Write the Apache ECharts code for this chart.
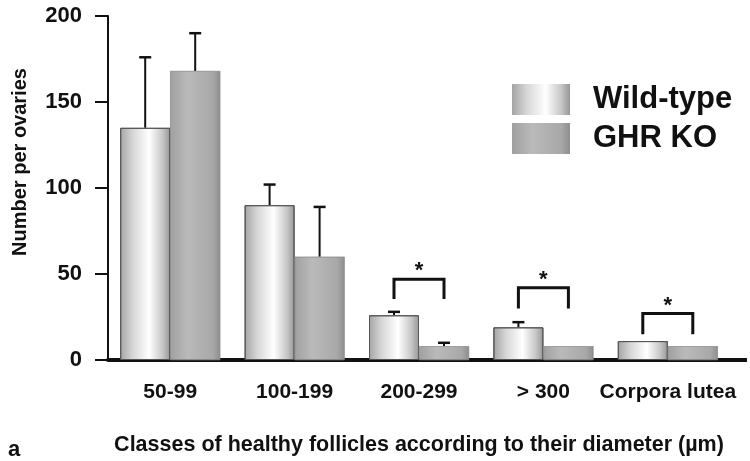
<!DOCTYPE html>
<html>
<head>
<meta charset="utf-8">
<style>html,body{margin:0;padding:0;background:#fff;}#c{width:750px;height:461px;}</style>
<script src="https://cdn.jsdelivr.net/npm/echarts@6/dist/echarts.min.js"></script>
</head>
<body>
<div id="c"></div>
<script>
// ---- data ----
var categories = ['50-99', '100-199', '200-299', '> 300', 'Corpora lutea'];
var wildType = [135, 90, 26, 19, 11];
var wildTypeErr = [41, 12, 2, 3, 0];
var ghrKO = [168, 60, 8, 8, 8];
var ghrKOErr = [22, 29, 2, 0, 0];
// significance brackets: [category index, bracket level, leg bottom level]
var sigBrackets = [[2, 47, 35.5], [3, 42, 30], [4, 27, 15]];
var yTicks = [0, 50, 100, 150, 200];

// ---- style ----
var FONT = "'Liberation Sans', Arial, Helvetica, sans-serif";
var BAR_W = 50;

var chart = echarts.init(document.getElementById('c'), null, {renderer: 'canvas'});

function errRender(sign) {
  return function (params, api) {
    var err = api.value(2);
    if (!err) return null;
    var base = api.coord([api.value(0), api.value(1)]);
    var top = api.coord([api.value(0), api.value(1) + err]);
    var x = base[0] + sign * BAR_W / 2;
    var cap = 6;
    return {
      type: 'group',
      children: [
        {type: 'line', shape: {x1: x, y1: base[1], x2: x, y2: top[1]}, style: {stroke: '#111', lineWidth: 2}},
        {type: 'line', shape: {x1: x - cap, y1: top[1], x2: x + cap, y2: top[1]}, style: {stroke: '#111', lineWidth: 2.5}}
      ]
    };
  };
}

function bracketRender(params, api) {
  var idx = api.value(0);
  var topP = api.coord([idx, api.value(1)]);
  var legP = api.coord([idx, api.value(2)]);
  var xl = topP[0] - BAR_W / 2, xr = topP[0] + BAR_W / 2;
  return {
    type: 'group',
    children: [
      {type: 'polyline', shape: {points: [[xl, legP[1]], [xl, topP[1]], [xr, topP[1]], [xr, legP[1]]]},
        style: {stroke: '#111', lineWidth: 3, fill: null}},
      {type: 'text', style: {text: '*', x: topP[0], y: topP[1] + 3, align: 'center', verticalAlign: 'bottom',
        font: 'bold 22px ' + FONT, fill: '#111'}}
    ]
  };
}

var wtGrad = new echarts.graphic.LinearGradient(0, 0, 1, 0, [
  {offset: 0, color: '#a4a4a4'}, {offset: 0.25, color: '#d6d6d6'}, {offset: 0.58, color: '#ffffff'},
  {offset: 0.85, color: '#c6c6c6'}, {offset: 1, color: '#969696'}
]);
var koGrad = new echarts.graphic.LinearGradient(0, 0, 1, 0, [
  {offset: 0, color: '#a0a0a0'}, {offset: 0.35, color: '#bababa'}, {offset: 0.85, color: '#a8a8a8'},
  {offset: 1, color: '#8e8e8e'}
]);

var option = {
  animation: false,
  backgroundColor: '#ffffff',
  textStyle: {fontFamily: FONT},
  title: {
    text: 'a', left: 3, top: 434,
    textStyle: {fontFamily: FONT, fontWeight: 'bold', fontSize: 22, color: '#111'}
  },
  legend: {
    data: ['Wild-type', 'GHR KO'],
    orient: 'vertical', left: 512, top: 84, padding: 0,
    itemWidth: 58, itemHeight: 31, itemGap: 8,
    icon: 'rect',
    itemStyle: {borderWidth: 0},
    textStyle: {fontFamily: FONT, fontWeight: 'bold', fontSize: 31, color: '#111', padding: [0, 0, 0, 18]}
  },
  grid: {left: 108, top: 16, right: 20, bottom: 101, containLabel: false},
  xAxis: {
    type: 'category',
    data: categories,
    name: 'Classes of healthy follicles according to their diameter (µm)',
    nameLocation: 'middle',
    nameGap: 74,
    nameTextStyle: {fontFamily: FONT, fontWeight: 'bold', fontSize: 21.5, color: '#111'},
    axisLine: {lineStyle: {color: '#111', width: 4}},
    axisTick: {alignWithLabel: true, length: 16, lineStyle: {color: '#111', width: 2}},
    axisLabel: {margin: 22, fontFamily: FONT, fontWeight: 'bold', fontSize: 21, color: '#111', interval: 0},
    splitLine: {show: false}
  },
  yAxis: {
    type: 'value',
    min: yTicks[0], max: yTicks[yTicks.length - 1], interval: 50,
    name: 'Number per ovaries',
    nameLocation: 'middle',
    nameGap: 78,
    nameRotate: 90,
    nameTextStyle: {fontFamily: FONT, fontWeight: 'bold', fontSize: 20, color: '#111', padding: [0, 0, 0, 52]},
    axisLine: {show: true, lineStyle: {color: '#111', width: 2}},
    axisTick: {show: true, length: 13, lineStyle: {color: '#111', width: 2}},
    axisLabel: {margin: 26, fontFamily: FONT, fontWeight: 'bold', fontSize: 22, color: '#111'},
    splitLine: {show: false}
  },
  series: [
    {
      name: 'Wild-type', type: 'bar', data: wildType, barWidth: BAR_W, barGap: '0%',
      itemStyle: {color: wtGrad, borderColor: '#555', borderWidth: 1}, z: 2
    },
    {
      name: 'GHR KO', type: 'bar', data: ghrKO, barWidth: BAR_W, barGap: '0%',
      itemStyle: {color: koGrad, borderColor: '#8a8a8a', borderWidth: 0.5}, z: 2
    },
    {
      type: 'custom', name: 'errWT', renderItem: errRender(-1), z: 1,
      data: wildType.map(function (v, i) { return [i, v, wildTypeErr[i]]; })
    },
    {
      type: 'custom', name: 'errKO', renderItem: errRender(1), z: 1,
      data: ghrKO.map(function (v, i) { return [i, v, ghrKOErr[i]]; })
    },
    {
      type: 'custom', name: 'sig', renderItem: bracketRender, z: 3,
      data: sigBrackets
    }
  ]
};
chart.setOption(option);

// extend the baseline to the right edge as in the original figure
var p0 = chart.convertToPixel({gridIndex: 0}, [categories.length - 1, 0]);
var gridRight = 750 - 20;
chart.setOption({
  graphic: [{type: 'line', shape: {x1: gridRight - 2, y1: p0[1], x2: 747, y2: p0[1]}, style: {stroke: '#111', lineWidth: 4}, z: 10}]
});
</script>
</body>
</html>
